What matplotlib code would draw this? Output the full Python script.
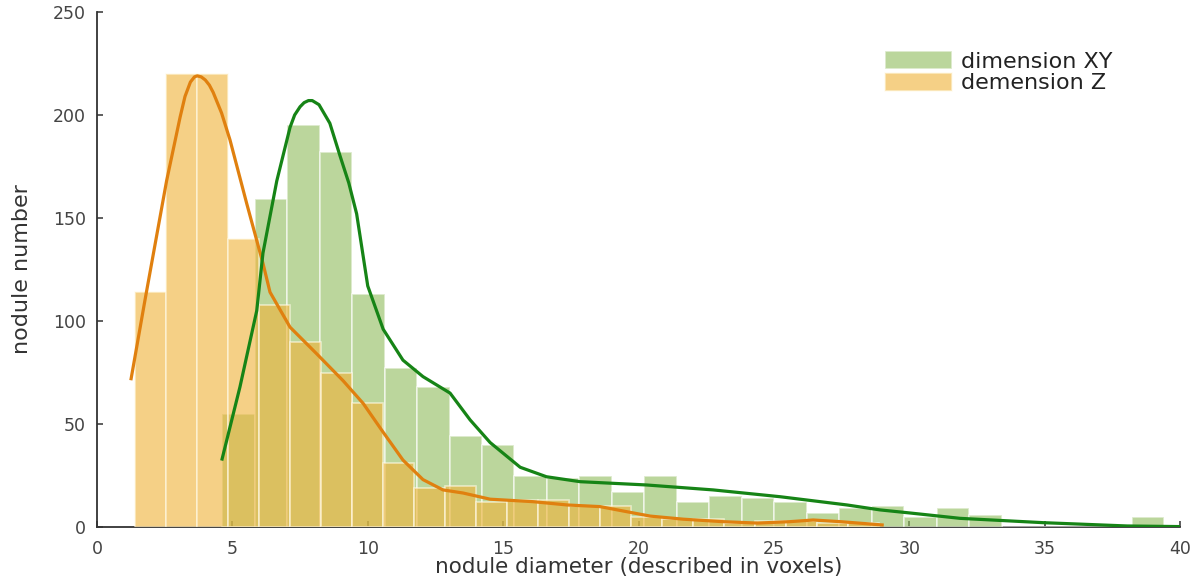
import matplotlib
matplotlib.use("Agg")
import matplotlib.pyplot as plt
import numpy as np

# histogram counts
xy_bin_start = 4.62
xy_bin_width = 1.2
xy_counts = [55, 159, 195, 182, 113, 77, 68, 44, 40, 25, 24, 25, 17, 25, 12,
             15, 14, 12, 7, 9, 10, 5, 9, 6, 0, 0, 0, 0, 5]

z_bin_start = 1.40
z_bin_width = 1.145
z_counts = [114, 220, 220, 140, 108, 90, 75, 60, 31, 19, 20, 12, 13, 13, 10,
            10, 5, 4, 4, 2, 3, 3, 2, 2]

# density curves (scaled to counts)
xy_curve_x = [4.62, 5.28, 5.9, 6.13, 6.64, 7.13, 7.3, 7.5, 7.65, 7.81, 7.95,
              8.2, 8.6, 8.98, 9.3, 9.59, 10.0, 10.57, 11.3, 12.04, 13.04,
              13.78, 14.52, 15.63, 16.6, 17.84, 20.3, 22.76, 25.23, 27.7,
              28.92, 30.03, 31.88, 34.95, 38.05, 40.0]
xy_curve_y = [33, 68, 105, 133, 168, 194, 200, 204, 206, 207, 207, 205, 196,
              180, 167, 152, 117, 96, 81, 73, 65, 52, 41, 29, 24.4, 22, 20.4,
              18, 14.7, 10.7, 8.3, 6.8, 4.2, 2.1, 0.5, 0.2]

z_curve_x = [1.26, 1.77, 2.57, 3.07, 3.25, 3.45, 3.6, 3.70, 3.85, 4.0, 4.15,
             4.29, 4.6, 4.91, 5.53, 6.13, 6.39, 7.13, 8.12, 9.09, 9.83, 10.57,
             11.3, 12.04, 12.78, 13.52, 14.52, 16.1, 17.36, 18.58, 19.58,
             20.43, 21.65, 23.1, 24.4, 25.6, 26.45, 27.45, 29.0]
z_curve_y = [72, 110, 168, 199, 209, 216, 218.5, 219, 218.5, 217, 214.5, 211,
             201, 188, 157, 128, 114, 97, 84, 71, 60, 46, 32.5, 23, 18, 16.5,
             13.5, 12.3, 10.7, 9.9, 7.4, 5.3, 3.8, 2.6, 1.9, 2.6, 3.4, 2.6, 1]

labels = ["dimension XY", "demension Z"]

W, H = 1198, 584
fig = plt.figure(figsize=(W / 100, H / 100), dpi=100)
ax = fig.add_axes([97 / W, 1 - 527 / H, (1180 - 97) / W, (527 - 12) / H])

xy_left = xy_bin_start + xy_bin_width * np.arange(len(xy_counts))
z_left = z_bin_start + z_bin_width * np.arange(len(z_counts))

ax.bar(xy_left, xy_counts, width=xy_bin_width, align="edge",
       color="#8fbc5a", alpha=0.6, edgecolor="white", linewidth=1.2,
       zorder=3, label=labels[0])
ax.bar(z_left, z_counts, width=z_bin_width, align="edge",
       color="#f0b43c", alpha=0.62, edgecolor="#fffbe8", linewidth=1.2,
       zorder=3, label=labels[1])

ax.plot(z_curve_x, z_curve_y, color="#e0800f", lw=2.3, zorder=4,
        solid_joinstyle="round")
ax.plot(xy_curve_x, xy_curve_y, color="#168416", lw=2.3, zorder=4,
        solid_joinstyle="round")

ax.set_xlim(0, 40)
ax.set_ylim(0, 250)
ax.set_xticks(range(0, 41, 5))
ax.set_yticks(range(0, 251, 50))

for s in ["top", "right"]:
    ax.spines[s].set_visible(False)
for s in ["left", "bottom"]:
    ax.spines[s].set_color("#333333")
    ax.spines[s].set_linewidth(1.3)

ax.tick_params(direction="in", length=4, width=1.1, color="#333333",
               labelcolor="#444444", labelsize=12.5)
ax.tick_params(axis="x", pad=9)
ax.tick_params(axis="y", pad=8)

ax.set_xlabel("nodule diameter (described in voxels)", fontsize=15.5,
              color="#333333")
ax.xaxis.set_label_coords(0.5, -0.058)
ax.set_ylabel("nodule number", fontsize=16, color="#333333")
ax.yaxis.set_label_coords(-0.06, 0.5)

leg = ax.legend(loc="upper left", bbox_to_anchor=((874 - 97) / 1083, (527 - 40) / 515),
                frameon=False, fontsize=16, handlelength=3.0, handleheight=0.85,
                handletextpad=0.4, labelspacing=0.05, borderpad=0,
                labelcolor="#222222")

fig.savefig("out.png", dpi=100)
